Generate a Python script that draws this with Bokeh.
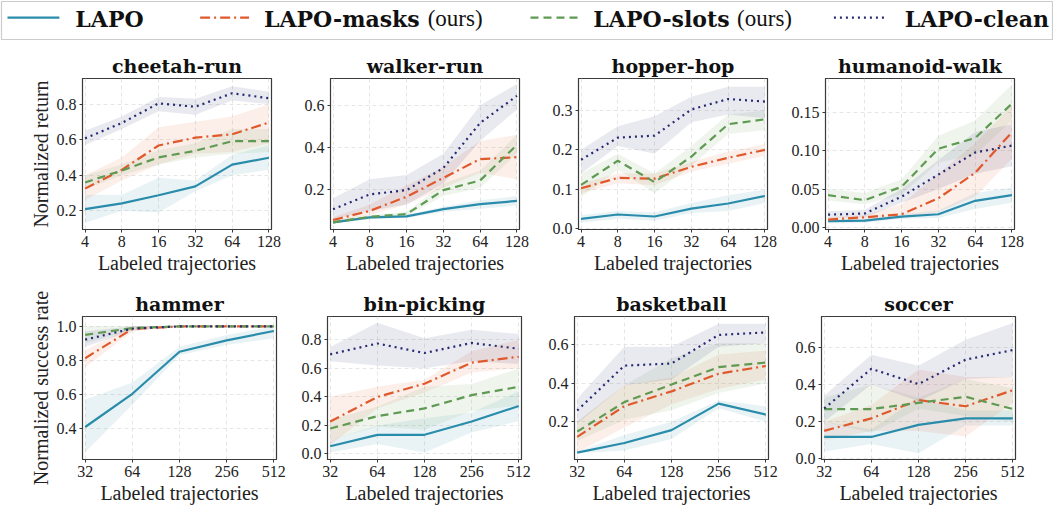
import numpy as np
from bokeh.plotting import figure
from bokeh.layouts import column, row
from bokeh.models import Range1d, FixedTicker, NumeralTickFormatter
from bokeh.core.properties import value
from bokeh.embed import file_html
from bokeh.resources import INLINE

# ---------------- data ----------------
methods = ["LAPO", "LAPO-masks", "LAPO-slots", "LAPO-clean"]
x_dmc = [4, 8, 16, 32, 64, 128]
x_meta = [32, 64, 128, 256, 512]

cheetah_run_mean = {"LAPO": [0.209, 0.241, 0.287, 0.337, 0.459, 0.498],
                    "LAPO-masks": [0.324, 0.430, 0.567, 0.611, 0.630, 0.696],
                    "LAPO-slots": [0.359, 0.426, 0.500, 0.537, 0.591, 0.591],
                    "LAPO-clean": [0.607, 0.694, 0.804, 0.785, 0.861, 0.833]}
cheetah_run_lo = {"LAPO": [0.13, 0.20, 0.19, 0.31, 0.40, 0.43],
                  "LAPO-masks": [0.26, 0.37, 0.46, 0.52, 0.53, 0.58],
                  "LAPO-slots": [0.32, 0.40, 0.46, 0.50, 0.52, 0.53],
                  "LAPO-clean": [0.57, 0.66, 0.76, 0.74, 0.82, 0.80]}
cheetah_run_hi = {"LAPO": [0.29, 0.29, 0.385, 0.37, 0.515, 0.567],
                  "LAPO-masks": [0.40, 0.50, 0.67, 0.70, 0.73, 0.80],
                  "LAPO-slots": [0.40, 0.46, 0.54, 0.58, 0.66, 0.66],
                  "LAPO-clean": [0.65, 0.73, 0.84, 0.83, 0.90, 0.87]}

walker_run_mean = {"LAPO": [0.046, 0.069, 0.074, 0.108, 0.132, 0.147],
                   "LAPO-masks": [0.057, 0.100, 0.167, 0.256, 0.345, 0.354],
                   "LAPO-slots": [0.046, 0.072, 0.085, 0.198, 0.244, 0.412],
                   "LAPO-clean": [0.108, 0.178, 0.198, 0.303, 0.516, 0.644]}
walker_run_lo = {"LAPO": [0.040, 0.062, 0.066, 0.095, 0.110, 0.125],
                 "LAPO-masks": [0.05, 0.08, 0.13, 0.21, 0.28, 0.25],
                 "LAPO-slots": [0.04, 0.06, 0.075, 0.17, 0.21, 0.37],
                 "LAPO-clean": [0.06, 0.10, 0.13, 0.23, 0.43, 0.58]}
walker_run_hi = {"LAPO": [0.052, 0.076, 0.082, 0.12, 0.15, 0.17],
                 "LAPO-masks": [0.07, 0.13, 0.22, 0.31, 0.43, 0.46],
                 "LAPO-slots": [0.06, 0.08, 0.095, 0.23, 0.29, 0.46],
                 "LAPO-clean": [0.16, 0.25, 0.27, 0.37, 0.60, 0.70]}

hopper_hop_mean = {"LAPO": [0.025, 0.036, 0.031, 0.051, 0.064, 0.083],
                   "LAPO-masks": [0.1025, 0.129, 0.127, 0.157, 0.180, 0.200],
                   "LAPO-slots": [0.111, 0.1725, 0.118, 0.183, 0.265, 0.2775],
                   "LAPO-clean": [0.175, 0.231, 0.236, 0.3025, 0.329, 0.3225]}
hopper_hop_lo = {"LAPO": [0.015, 0.025, 0.020, 0.040, 0.045, 0.065],
                 "LAPO-masks": [0.09, 0.115, 0.11, 0.145, 0.165, 0.185],
                 "LAPO-slots": [0.08, 0.15, 0.09, 0.16, 0.24, 0.25],
                 "LAPO-clean": [0.14, 0.21, 0.19, 0.27, 0.29, 0.28]}
hopper_hop_hi = {"LAPO": [0.035, 0.045, 0.042, 0.065, 0.085, 0.10],
                 "LAPO-masks": [0.115, 0.14, 0.14, 0.17, 0.195, 0.215],
                 "LAPO-slots": [0.14, 0.19, 0.14, 0.21, 0.29, 0.30],
                 "LAPO-clean": [0.20, 0.26, 0.285, 0.335, 0.36, 0.36]}

humanoid_walk_mean = {"LAPO": [0.0078, 0.0086, 0.014, 0.017, 0.0346, 0.042],
                      "LAPO-masks": [0.010, 0.013, 0.017, 0.038, 0.0713, 0.1245],
                      "LAPO-slots": [0.042, 0.0355, 0.053, 0.103, 0.117, 0.162],
                      "LAPO-clean": [0.0164, 0.018, 0.040, 0.069, 0.098, 0.107]}
humanoid_walk_lo = {"LAPO": [0.005, 0.006, 0.011, 0.012, 0.024, 0.032],
                    "LAPO-masks": [0.007, 0.010, 0.012, 0.020, 0.040, 0.090],
                    "LAPO-slots": [0.035, 0.030, 0.043, 0.085, 0.095, 0.140],
                    "LAPO-clean": [0.012, 0.013, 0.032, 0.050, 0.070, 0.080]}
humanoid_walk_hi = {"LAPO": [0.010, 0.011, 0.017, 0.022, 0.045, 0.052],
                    "LAPO-masks": [0.013, 0.016, 0.030, 0.070, 0.110, 0.160],
                    "LAPO-slots": [0.050, 0.045, 0.063, 0.120, 0.140, 0.187],
                    "LAPO-clean": [0.021, 0.023, 0.050, 0.088, 0.125, 0.135]}

hammer_mean = {"LAPO": [0.409, 0.604, 0.851, 0.918, 0.973],
               "LAPO-masks": [0.813, 0.985, 1.0, 1.0, 1.0],
               "LAPO-slots": [0.950, 0.990, 1.0, 1.0, 1.0],
               "LAPO-clean": [0.922, 0.987, 1.0, 1.0, 1.0]}
hammer_lo = {"LAPO": [0.26, 0.54, 0.83, 0.89, 0.93],
             "LAPO-masks": [0.76, 0.97, 1.0, 1.0, 1.0],
             "LAPO-slots": [0.90, 0.98, 1.0, 1.0, 1.0],
             "LAPO-clean": [0.88, 0.975, 1.0, 1.0, 1.0]}
hammer_hi = {"LAPO": [0.57, 0.67, 0.88, 0.95, 1.0],
             "LAPO-masks": [0.86, 1.0, 1.0, 1.0, 1.0],
             "LAPO-slots": [1.0, 1.0, 1.0, 1.0, 1.0],
             "LAPO-clean": [0.97, 1.0, 1.0, 1.0, 1.0]}

bin_picking_mean = {"LAPO": [0.054, 0.134, 0.134, 0.227, 0.336],
                    "LAPO-masks": [0.227, 0.399, 0.492, 0.640, 0.681],
                    "LAPO-slots": [0.178, 0.265, 0.319, 0.412, 0.470],
                    "LAPO-clean": [0.698, 0.774, 0.707, 0.778, 0.737]}
bin_picking_lo = {"LAPO": [0.01, 0.07, 0.01, 0.15, 0.23],
                  "LAPO-masks": [0.06, 0.32, 0.43, 0.57, 0.60],
                  "LAPO-slots": [0.10, 0.19, 0.17, 0.30, 0.34],
                  "LAPO-clean": [0.65, 0.62, 0.60, 0.65, 0.63]}
bin_picking_hi = {"LAPO": [0.10, 0.20, 0.25, 0.29, 0.44],
                  "LAPO-masks": [0.40, 0.47, 0.52, 0.72, 0.80],
                  "LAPO-slots": [0.24, 0.33, 0.47, 0.49, 0.60],
                  "LAPO-clean": [0.75, 0.92, 0.81, 0.87, 0.84]}

basketball_mean = {"LAPO": [0.039, 0.089, 0.156, 0.294, 0.237],
                   "LAPO-masks": [0.121, 0.281, 0.358, 0.450, 0.490],
                   "LAPO-slots": [0.148, 0.302, 0.394, 0.484, 0.508],
                   "LAPO-clean": [0.258, 0.492, 0.503, 0.652, 0.665]}
basketball_lo = {"LAPO": [0.035, 0.05, 0.11, 0.27, 0.20],
                 "LAPO-masks": [0.04, 0.17, 0.29, 0.37, 0.42],
                 "LAPO-slots": [0.10, 0.21, 0.26, 0.35, 0.40],
                 "LAPO-clean": [0.19, 0.39, 0.42, 0.59, 0.61]}
basketball_hi = {"LAPO": [0.045, 0.13, 0.20, 0.31, 0.28],
                 "LAPO-masks": [0.20, 0.39, 0.43, 0.55, 0.57],
                 "LAPO-slots": [0.20, 0.39, 0.53, 0.61, 0.61],
                 "LAPO-clean": [0.32, 0.59, 0.59, 0.71, 0.71]}

soccer_mean = {"LAPO": [0.118, 0.118, 0.183, 0.218, 0.218],
               "LAPO-masks": [0.151, 0.218, 0.316, 0.283, 0.369],
               "LAPO-slots": [0.268, 0.268, 0.301, 0.334, 0.268],
               "LAPO-clean": [0.271, 0.484, 0.402, 0.533, 0.585]}
soccer_lo = {"LAPO": [0.04, 0.08, 0.03, 0.18, 0.18],
             "LAPO-masks": [0.10, 0.15, 0.15, 0.12, 0.30],
             "LAPO-slots": [0.20, 0.14, 0.27, 0.23, 0.20],
             "LAPO-clean": [0.20, 0.40, 0.31, 0.43, 0.44]}
soccer_hi = {"LAPO": [0.20, 0.16, 0.33, 0.26, 0.26],
             "LAPO-masks": [0.20, 0.29, 0.48, 0.44, 0.44],
             "LAPO-slots": [0.33, 0.40, 0.33, 0.43, 0.38],
             "LAPO-clean": [0.34, 0.56, 0.50, 0.64, 0.73]}

yticks_cheetah = [0.2, 0.4, 0.6, 0.8]
yticks_walker = [0.2, 0.4, 0.6]
yticks_hopper = [0.0, 0.1, 0.2, 0.3]
yticks_humanoid = [0.0, 0.05, 0.10, 0.15]
yticks_hammer = [0.4, 0.6, 0.8, 1.0]
yticks_bin = [0.0, 0.2, 0.4, 0.6, 0.8]
yticks_basket = [0.2, 0.4, 0.6]
yticks_soccer = [0.0, 0.2, 0.4, 0.6]

# ---------------- styles ----------------
colors = {"LAPO": "#2a8cab", "LAPO-masks": "#e0592c",
          "LAPO-slots": "#5f9a53", "LAPO-clean": "#262a70"}
dashes = {"LAPO": "solid", "LAPO-masks": "10 4 2 4",
          "LAPO-slots": "8 5", "LAPO-clean": "2 4"}
SERIF = "Liberation Serif"
BOLD = "DejaVu Serif"
SPINE = "#3a3a3a"


def make_panel(title, xs, mean, lo, hi, yr, yticks, yfmt, width, bl, br,
               height, bt, bb, xpad, ylabel=None):
    x0 = xs[0] / 2 ** xpad
    x1 = xs[-1] * 2 ** xpad
    p = figure(width=width, height=height, x_axis_type="log",
               x_range=Range1d(x0, x1), y_range=Range1d(*yr),
               output_backend="svg", toolbar_location=None,
               min_border_left=bl, min_border_right=br,
               min_border_top=bt, min_border_bottom=bb,
               background_fill_color="white", border_fill_color="white")
    p.title.text = title
    p.title.text_font = BOLD
    p.title.text_font_style = "bold"
    p.title.text_font_size = "19px"
    p.title.align = "center"
    p.title.standoff = 3
    p.title.text_color = "#111111"

    for m in methods:
        p.varea(x=xs, y1=lo[m], y2=hi[m], fill_color=colors[m], fill_alpha=0.1)
    for m in methods:
        p.line(x=xs, y=mean[m], line_color=colors[m], line_width=2.2,
               line_dash=dashes[m])

    p.xaxis.ticker = FixedTicker(ticks=xs)
    p.xaxis.formatter = NumeralTickFormatter(format="0")
    p.yaxis.ticker = FixedTicker(ticks=yticks)
    p.yaxis.formatter = NumeralTickFormatter(format=yfmt)
    for ax in (p.xaxis, p.yaxis):
        ax.major_label_text_font = SERIF
        ax.major_label_text_font_size = "16px"
        ax.major_label_text_color = "#222222"
        ax.axis_line_color = SPINE
        ax.major_tick_line_color = SPINE
        ax.major_tick_out = 3
        ax.major_tick_in = 0
        ax.minor_tick_out = 0
        ax.minor_tick_in = 0
        ax.major_label_standoff = 3
        ax.axis_label_text_font = SERIF
        ax.axis_label_text_font_size = "20px"
        ax.axis_label_text_font_style = "normal"
        ax.axis_label_text_color = "#222222"
    p.outline_line_color = SPINE
    p.outline_line_alpha = 1.0
    p.outline_line_width = 1.2
    p.grid.grid_line_color = "#e0e0e0"
    p.grid.grid_line_dash = "4 3"
    p.grid.grid_line_width = 0.8
    if ylabel:
        p.yaxis.axis_label = ylabel
        p.yaxis.axis_label_standoff = 2
    p.xaxis.axis_label = "Labeled trajectories"
    p.xaxis.axis_label_standoff = 2
    return p


# ---------------- legend ----------------
leg = figure(width=1053, height=40, x_range=Range1d(0, 1053), y_range=Range1d(40, 0),
             output_backend="svg", toolbar_location=None, min_border=1)
leg.axis.visible = False
leg.grid.visible = False
leg.outline_line_color = "#cccccc"
leg.outline_line_width = 1.2
leg_line_x = [(6, 58), (199, 248), (530, 580), (834, 885)]
leg_text_x = [74, 263, 593, 905]
leg_ours_x = [None, 427, 737, None]
LY = 17
for m, (a, b), tx, ox in zip(methods, leg_line_x, leg_text_x, leg_ours_x):
    leg.line(x=[a, b], y=[LY, LY], line_color=colors[m], line_width=2.2, line_dash=dashes[m])
    leg.text(x=[tx], y=[LY + 1], text=[m], text_font=value(BOLD), text_font_style="bold",
             text_font_size="22px", text_baseline="middle", text_color="#111111")
    if ox is not None:
        leg.text(x=[ox], y=[LY + 1], text=["(ours)"], text_font=value(SERIF),
                 text_font_size="23px", text_baseline="middle", text_color="#111111")

# ---------------- panels ----------------
R1H, R1T, R1B = 236, 38, 45
R2H, R2T, R2B = 230, 40, 38
f1 = make_panel("cheetah-run", x_dmc, cheetah_run_mean, cheetah_run_lo, cheetah_run_hi,
                (0.094, 0.944), yticks_cheetah, "0.0", 283, 82, 12, R1H, R1T, R1B, 0.07,
                ylabel="Normalized return")
f2 = make_panel("walker-run", x_dmc, walker_run_mean, walker_run_lo, walker_run_hi,
                (0.012, 0.726), yticks_walker, "0.0", 248, 47, 12, R1H, R1T, R1B, 0.07)
f3 = make_panel("hopper-hop", x_dmc, hopper_hop_mean, hopper_hop_lo, hopper_hop_hi,
                (-0.002, 0.381), yticks_hopper, "0.0", 248, 47, 12, R1H, R1T, R1B, 0.07)
f4 = make_panel("humanoid-walk", x_dmc, humanoid_walk_mean, humanoid_walk_lo, humanoid_walk_hi,
                (-0.003, 0.195), yticks_humanoid, "0.00", 274, 46, 39, R1H, R1T, R1B, 0.07)
f5 = make_panel("hammer", x_meta, hammer_mean, hammer_lo, hammer_hi,
                (0.218, 1.058), yticks_hammer, "0.0", 288, 82, 12, R2H, R2T, R2B, 0.057,
                ylabel="Normalized success rate")
f6 = make_panel("bin-picking", x_meta, bin_picking_mean, bin_picking_lo, bin_picking_hi,
                (-0.039, 0.963), yticks_bin, "0.0", 245, 39, 12, R2H, R2T, R2B, 0.057)
f7 = make_panel("basketball", x_meta, basketball_mean, basketball_lo, basketball_hi,
                (0.003, 0.748), yticks_basket, "0.0", 247, 41, 12, R2H, R2T, R2B, 0.057)
f8 = make_panel("soccer", x_meta, soccer_mean, soccer_lo, soccer_hi,
                (-0.003, 0.765), yticks_soccer, "0.0", 273, 41, 38, R2H, R2T, R2B, 0.057)

layout = column(leg, row(f1, f2, f3, f4, spacing=0), row(f5, f6, f7, f8, spacing=0), spacing=0)

open("out.html", "w").write(file_html(layout, INLINE))
